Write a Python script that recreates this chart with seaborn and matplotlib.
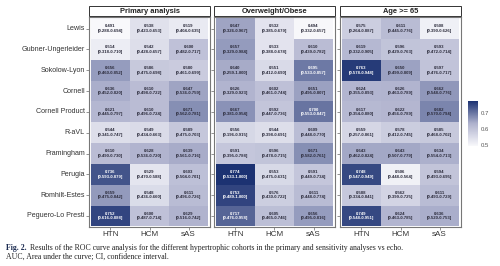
import matplotlib
matplotlib.use("Agg")
import matplotlib.pyplot as plt
import numpy as np
import pandas as pd
import seaborn as sns
from matplotlib.colors import LinearSegmentedColormap
from matplotlib.patches import Rectangle

# ECG criteria (rows) and hypertrophic cohorts (columns)
scores = ["Lewis", "Gubner-Ungerleider", "Sokolow-Lyon", "Cornell", "Cornell Product",
          "R-aVL", "Framingham", "Perugia", "Romhilt-Estes", "Peguero-Lo Presti"]
cohorts = ["HTN", "HCM", "sAS"]
panels = ["Primary analysis", "Overweight/Obese", "Age >= 65"]

# AUC and 95% CI per panel, rows x (HTN, HCM, sAS)
primary_auc = [[0.491, 0.538, 0.519], [0.514, 0.542, 0.600], [0.656, 0.586, 0.580],
               [0.636, 0.610, 0.647], [0.621, 0.610, 0.671], [0.544, 0.549, 0.589],
               [0.610, 0.628, 0.639], [0.736, 0.529, 0.603], [0.659, 0.548, 0.611],
               [0.752, 0.600, 0.629]]
primary_lo = [[0.288, 0.423, 0.404], [0.318, 0.428, 0.482], [0.460, 0.475, 0.461],
              [0.452, 0.498, 0.536], [0.445, 0.496, 0.562], [0.341, 0.434, 0.475],
              [0.490, 0.536, 0.561], [0.593, 0.470, 0.504], [0.475, 0.436, 0.496],
              [0.616, 0.487, 0.516]]
primary_hi = [[0.694, 0.653, 0.635], [0.710, 0.657, 0.717], [0.852, 0.698, 0.699],
              [0.820, 0.722, 0.759], [0.797, 0.724, 0.781], [0.747, 0.663, 0.703],
              [0.730, 0.720, 0.716], [0.879, 0.588, 0.701], [0.842, 0.660, 0.726],
              [0.888, 0.714, 0.742]]

obese_auc = [[0.647, 0.532, 0.494], [0.657, 0.533, 0.610], [0.640, 0.551, 0.695],
             [0.626, 0.602, 0.651], [0.667, 0.592, 0.700], [0.556, 0.544, 0.609],
             [0.591, 0.596, 0.671], [0.774, 0.553, 0.591], [0.753, 0.576, 0.611],
             [0.717, 0.605, 0.656]]
obese_lo = [[0.326, 0.385, 0.332], [0.329, 0.388, 0.439], [0.259, 0.412, 0.533],
            [0.329, 0.461, 0.495], [0.381, 0.447, 0.553], [0.196, 0.398, 0.448],
            [0.395, 0.478, 0.582], [0.533, 0.475, 0.449], [0.489, 0.430, 0.448],
            [0.476, 0.465, 0.495]]
obese_hi = [[0.967, 0.679, 0.657], [0.984, 0.678, 0.782], [1.000, 0.690, 0.857],
            [0.923, 0.744, 0.807], [0.954, 0.736, 0.847], [0.915, 0.691, 0.770],
            [0.788, 0.715, 0.761], [1.000, 0.631, 0.734], [1.000, 0.722, 0.774],
            [0.958, 0.746, 0.816]]

age_auc = [[0.575, 0.611, 0.508], [0.619, 0.596, 0.593], [0.763, 0.650, 0.597],
           [0.624, 0.626, 0.662], [0.617, 0.622, 0.682], [0.559, 0.578, 0.585],
           [0.643, 0.643, 0.634], [0.748, 0.506, 0.594], [0.588, 0.562, 0.611],
           [0.749, 0.624, 0.636]]
age_lo = [[0.264, 0.445, 0.390], [0.332, 0.429, 0.472], [0.578, 0.499, 0.476],
          [0.355, 0.463, 0.548], [0.354, 0.456, 0.570], [0.257, 0.412, 0.468],
          [0.462, 0.507, 0.554], [0.547, 0.448, 0.493], [0.334, 0.399, 0.493],
          [0.548, 0.463, 0.520]]
age_hi = [[0.887, 0.776, 0.626], [0.905, 0.763, 0.714], [0.948, 0.809, 0.717],
          [0.893, 0.789, 0.776], [0.880, 0.789, 0.794], [0.861, 0.745, 0.702],
          [0.824, 0.779, 0.713], [0.949, 0.564, 0.695], [0.841, 0.725, 0.729],
          [0.951, 0.785, 0.753]]

cbar_ticks = [0.5, 0.6, 0.7]

plt.rcParams["font.family"] = ["Liberation Sans", "DejaVu Sans"]

cmap = LinearSegmentedColormap.from_list("auc", ["#f8f8fb", "#aeb1cd", "#1c3272"])

fig = plt.figure(figsize=(5, 2.66), dpi=100)
W, H = 500.0, 266.0

def px_axes(x0, y0, w, h):
    # pixel box (top-left origin) -> figure axes
    return fig.add_axes([x0 / W, 1 - (y0 + h) / H, w / W, h / H])

lefts = [89, 214, 340]
cax = px_axes(468, 101, 10, 45)

data = [(primary_auc, primary_lo, primary_hi),
        (obese_auc, obese_lo, obese_hi),
        (age_auc, age_lo, age_hi)]

for i, (auc, lo, hi) in enumerate(data):
    ax = px_axes(lefts[i], 17, 121, 210)
    df = pd.DataFrame(auc, index=scores, columns=cohorts)
    labels = np.array([[f"{auc[r][c]:.3f}\n[{lo[r][c]:.3f}-{hi[r][c]:.3f}]"
                        for c in range(3)] for r in range(len(scores))])
    sns.heatmap(df, ax=ax, cmap=cmap, vmin=0.491, vmax=0.774,
                annot=labels, fmt="", annot_kws=dict(size=3.1, weight="bold"),
                cbar=(i == 2), cbar_ax=cax if i == 2 else None,
                yticklabels=(i == 0))
    # light text only on the darkest cells
    vals = np.array(auc).ravel()
    for t, v in zip(ax.texts, vals):
        t.set_color("white" if v >= 0.69 else "#2a2a3a")
    if i > 0:
        ax.set_yticks(np.arange(len(scores)) + 0.5)
        ax.set_yticklabels([])
    ax.set_xlim(-0.05, 3.05)
    ax.set_ylim(len(scores) + 0.03, -0.06)
    ax.set_xlabel("")
    ax.set_ylabel("")
    ax.tick_params(axis="y", length=2, width=0.5, color="#666", labelsize=5.1,
                   labelcolor="#333", pad=1, rotation=0)
    ax.tick_params(axis="x", length=2, width=0.5, color="#666", labelsize=5.8,
                   labelcolor="#333", pad=1, rotation=0)
    for s in ax.spines.values():
        s.set_visible(True)
        s.set_color("#777")
        s.set_linewidth(0.8)
    # facet strip
    ax.add_patch(Rectangle((0, 1 + 1 / 210), 1, 9.5 / 210, transform=ax.transAxes,
                           clip_on=False, fill=True, fc="white", ec="#333", lw=0.7))
    ax.text(0.5, 1 + 5.8 / 210, panels[i], transform=ax.transAxes, ha="center",
            va="center", fontsize=5.4, weight="bold", color="#222")

cbar = ax.collections[0].colorbar
cbar.set_ticks(cbar_ticks)
cbar.outline.set_visible(False)
cax.tick_params(length=0, labelsize=4.3, labelcolor="#555", pad=2)

cap_font = ["Liberation Serif", "DejaVu Serif"]
fig.text(6 / W, 1 - 248 / H, "Fig. 2.", family=cap_font, fontsize=5.6,
         weight="bold", color="#1a2a50", va="center")
fig.text(30 / W, 1 - 248 / H,
         "Results of the ROC curve analysis for the different hypertrophic cohorts "
         "in the primary and sensitivity analyses vs echo.",
         family=cap_font, fontsize=5.6, color="#222", va="center")
fig.text(6 / W, 1 - 257 / H, "AUC, Area under the curve; CI, confidence interval.",
         family=cap_font, fontsize=5.6, color="#222", va="center")

fig.savefig("out.png", dpi=100)
